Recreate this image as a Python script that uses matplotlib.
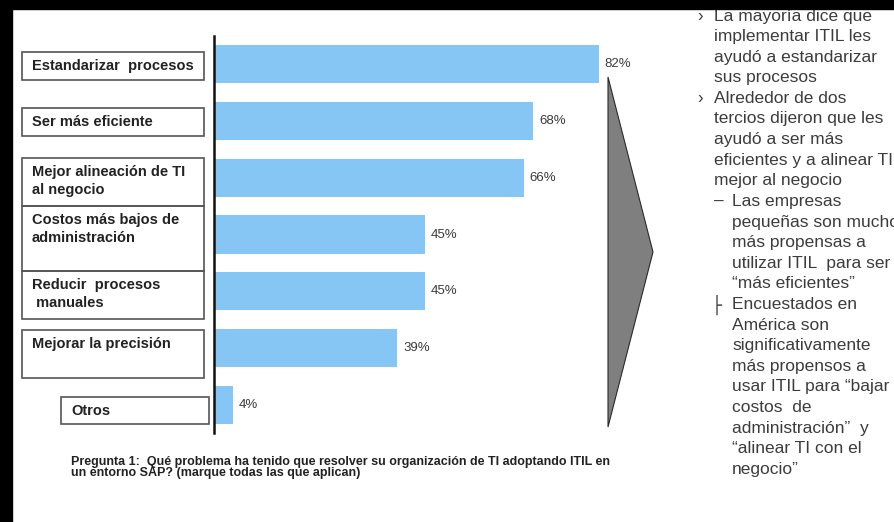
import matplotlib

matplotlib.use("Agg")
import matplotlib.pyplot as plt  # noqa: E402
from matplotlib.patches import Polygon, Rectangle  # noqa: E402

plt.rcParams["font.family"] = ["Liberation Sans", "DejaVu Sans"]

# Encuesta ITIL / SAP: porcentaje de respuestas por problema resuelto
categorias = [
    "Estandarizar  procesos",
    "Ser más eficiente",
    "Mejor alineación de TI\nal negocio",
    "Costos más bajos de\nadministración",
    "Reducir  procesos\n manuales",
    "Mejorar la precisión",
    "Otros",
]
porcentajes = [82, 68, 66, 45, 45, 39, 4]

pregunta = [
    "Pregunta 1:  Qué problema ha tenido que resolver su organización de TI adoptando ITIL en",
    "un entorno SAP? (marque todas las que aplican)",
]

# (viñeta, texto) por renglón del panel de conclusiones; "-" = sangría de sub-punto
conclusiones = [
    ("›", "La mayoría dice que"),
    ("", "implementar ITIL les"),
    ("", "ayudó a estandarizar"),
    ("", "sus procesos"),
    ("›", "Alrededor de dos"),
    ("", "tercios dijeron que les"),
    ("", "ayudó a ser más"),
    ("", "eficientes y a alinear TI"),
    ("", "mejor al negocio"),
    ("–", "Las empresas"),
    ("-", "pequeñas son mucho"),
    ("-", "más propensas a"),
    ("-", "utilizar ITIL  para ser"),
    ("-", "“más eficientes”"),
    ("├", "Encuestados en"),
    ("-", "América son"),
    ("-", "significativamente"),
    ("-", "más propensos a"),
    ("-", "usar ITIL para “bajar"),
    ("-", "costos  de"),
    ("-", "administración”  y"),
    ("-", "“alinear TI con el"),
    ("-", "negocio”"),
]

W, H = 894, 522
fig = plt.figure(figsize=(W / 100, H / 100), dpi=100)
fig.patch.set_facecolor("white")

# capa de fondo en pixeles (y hacia abajo)
bg = fig.add_axes([0, 0, 1, 1])
bg.set_xlim(0, W)
bg.set_ylim(H, 0)
bg.axis("off")

# grafico de barras
top_px, bot_px, left_px, px_per_pct = 35.6, 433.4, 214, 4.69
ax = fig.add_axes([left_px / W, 1 - bot_px / H, 100 * px_per_pct / W, (bot_px - top_px) / H])
ax.set_xlim(0, 100)
ax.set_ylim(len(categorias) - 0.5, -0.5)
ax.patch.set_alpha(0)
y = list(range(len(categorias)))
ax.barh(y, porcentajes, height=0.67, color="#86c6f4", left=0)
for yi, v in zip(y, porcentajes):
    ax.text(v + 1.3, yi, f"{v}%", va="center", ha="left", fontsize=9.5, color="#3a3a3a")
for s in ["top", "right", "bottom"]:
    ax.spines[s].set_visible(False)
ax.spines["left"].set_linewidth(1.8)
ax.spines["left"].set_color("#111111")
ax.set_xticks([])
ax.set_yticks([])

# recuadros con el nombre de cada categoria
cajas = [
    (22, 52, 204, 80, 32),
    (22, 108, 204, 136, 32),
    (22, 158, 204, 206, 32),
    (22, 206, 204, 271, 32),
    (22, 271, 204, 319, 32),
    (22, 330, 204, 378, 32),
    (61, 397, 209, 424, 71),
]
for (x0, y0, x1, y1, tx), nombre in zip(cajas, categorias):
    bg.add_patch(Rectangle((x0, y0), x1 - x0, y1 - y0, fill=False, edgecolor="#555555", lw=1.2))
    for k, linea in enumerate(nombre.split("\n")):
        bg.text(tx, y0 + 14 + 18 * k, linea, fontsize=10.5, fontweight="bold",
                color="#222222", va="center", ha="left")

# flecha gris hacia el panel de texto
bg.add_patch(Polygon([(608, 77), (653, 252), (608, 427)], closed=True,
                     facecolor="#7f7f7f", edgecolor="#2a2a2a", lw=0.8))

# nota al pie con la pregunta (renglones muy juntos)
bg.text(71, 456, "\n".join(pregunta), fontsize=9.0, fontweight="bold", linespacing=0.94,
        color="#222222", va="top", ha="left")

# panel de conclusiones
for i, (vineta, texto) in enumerate(conclusiones):
    yy = 16 + 20.6 * i
    sub = vineta in ("–", "├", "-")
    if vineta == "›":
        bg.text(697, yy, vineta, fontsize=12, color="#3c3c3c", va="center", ha="left")
    elif vineta == "├":
        bg.text(712, yy, vineta, fontsize=12, family=["DejaVu Sans"], color="#3c3c3c",
                va="center", ha="left")
    elif vineta == "–":
        bg.text(714, yy, vineta, fontsize=12.5, color="#3c3c3c", va="center", ha="left")
    bg.text(732 if sub else 714, yy, texto, fontsize=12.5, color="#3c3c3c",
            va="center", ha="left")

# marco negro superior e izquierdo
bg.add_patch(Rectangle((0, 0), W, 9, color="black", zorder=10))
bg.add_patch(Rectangle((0, 0), 12, H, color="black", zorder=10))

fig.savefig("out.png", dpi=100)
